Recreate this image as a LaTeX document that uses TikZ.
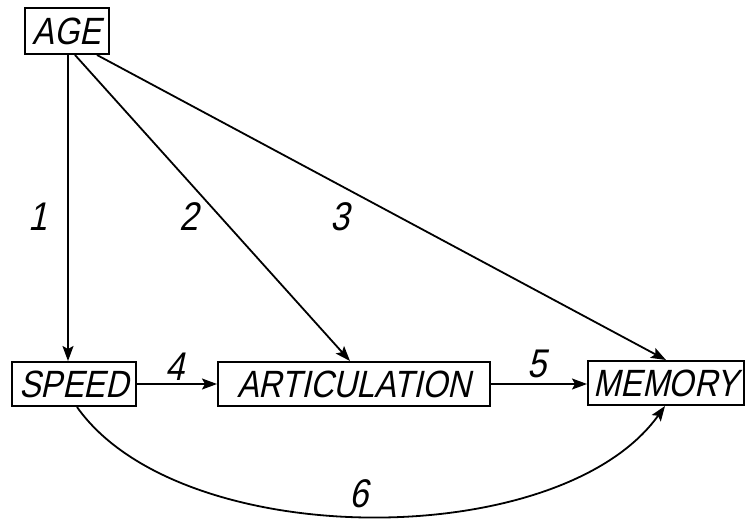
\documentclass[tikz,border=0pt]{standalone}
\usepackage{fontspec}
\setmainfont{Liberation Sans}[FakeSlant=0.22,FakeStretch=0.85]
\usetikzlibrary{arrows.meta}
\begin{document}
\begin{tikzpicture}[x=1pt,y=-1pt,
  box/.style={draw,line width=2pt,inner sep=0pt,font=\fontsize{38}{38}\selectfont},
  lab/.style={inner sep=0pt,font=\fontsize{40}{40}\selectfont},
  arr/.style={line width=1.8pt,-{Stealth[length=15pt,width=11pt,inset=3pt]}}]
\useasboundingbox (0,0) rectangle (746,521);
\node[box,minimum width=84pt,minimum height=46pt] (age) at (67,31) {AGE};
\node[box,minimum width=124pt,minimum height=44pt] (speed) at (74,384) {SPEED};
\node[box,minimum width=272pt,minimum height=44pt] (art) at (354,384) {ARTICULATION};
\node[box,minimum width=156pt,minimum height=44pt] (mem) at (666,383) {MEMORY};
\draw[arr] ([xshift=1pt]age.south) -- ([xshift=1pt]age.south |- speed.north);
\draw[arr] ([xshift=8pt]age.south) -- ([xshift=-4pt]art.north);
\draw[arr] ([xshift=30pt]age.south) -- (mem.north);
\draw[arr] (speed.east) -- (speed.east -| art.west);
\draw[arr] (art.east) -- (art.east -| mem.west);
\draw[arr] ([xshift=3pt]speed.south) .. controls (180,553) and (560,553) .. ([xshift=-1pt]mem.south);
\node[lab] (l1) at (38,217) {1};
\node[lab] (l2) at (189,217) {2};
\node[lab] (l3) at (340,217) {3};
\node[lab] (l4) at (175,367) {4};
\node[lab] (l5) at (537,364) {5};
\node[lab] (l6) at (359,494) {6};
\end{tikzpicture}
\end{document}
